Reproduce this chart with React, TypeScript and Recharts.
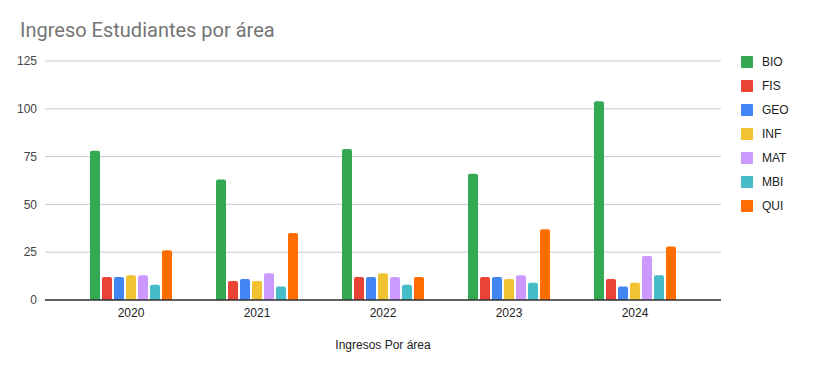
import React from 'react';
import { BarChart, Bar, XAxis, YAxis, CartesianGrid } from 'recharts';

const years = ['2020', '2021', '2022', '2023', '2024'];
const BIO = [78, 63, 79, 66, 104];
const FIS = [12, 10, 12, 12, 11];
const GEO = [12, 11, 12, 12, 7];
const INF = [13, 10, 14, 11, 9];
const MAT = [13, 14, 12, 13, 23];
const MBI = [8, 7, 8, 9, 13];
const QUI = [26, 35, 12, 37, 28];
const yTicks = [0, 25, 50, 75, 100, 125];

const series = [
  { key: 'BIO', values: BIO, color: '#34a853' },
  { key: 'FIS', values: FIS, color: '#ea4335' },
  { key: 'GEO', values: GEO, color: '#4285f4' },
  { key: 'INF', values: INF, color: '#f1c232' },
  { key: 'MAT', values: MAT, color: '#cc99ff' },
  { key: 'MBI', values: MBI, color: '#46bdc6' },
  { key: 'QUI', values: QUI, color: '#ff6d01' },
];

const data = years.map((y, i) => {
  const row: Record<string, any> = { year: y };
  series.forEach((s) => {
    row[s.key] = s.values[i];
  });
  return row;
});

const FONT = '"Liberation Sans", Arial, sans-serif';

export default function App() {
  return (
    <div style={{ position: 'absolute', left: 0, top: 0, width: 818, height: 371, background: '#fff', fontFamily: FONT }}>
      <div
        style={{
          position: 'absolute',
          left: 20,
          top: 20,
          fontFamily: 'Roboto, Arial, sans-serif',
          fontSize: 20,
          lineHeight: '20px',
          color: '#757575',
          whiteSpace: 'nowrap',
        }}
      >
        Ingreso Estudiantes por área
      </div>
      <BarChart
        width={818}
        height={371}
        data={data}
        margin={{ top: 61, right: 97, bottom: 0, left: 0 }}
        barSize={10}
        barGap={2}
        style={{ fontFamily: FONT }}
      >
        <CartesianGrid vertical={false} stroke="#cccccc" />
        <XAxis
          dataKey="year"
          height={71}
          padding={{ left: 23, right: 23 }}
          tickLine={false}
          tickSize={0}
          tickMargin={8}
          axisLine={{ stroke: '#333333', strokeWidth: 1.5 }}
          tick={{ fill: '#222222', fontSize: 12 }}
          label={{ value: 'Ingresos Por área', position: 'insideBottom', offset: 22, fill: '#222222', fontSize: 12 }}
        />
        <YAxis
          width={45}
          domain={[0, 125]}
          ticks={yTicks}
          axisLine={false}
          tickLine={false}
          tickSize={0}
          tickMargin={8}
          tick={{ fill: '#444444', fontSize: 12 }}
        />
        {series.map((s) => (
          <Bar key={s.key} dataKey={s.key} fill={s.color} radius={[2, 2, 0, 0]} isAnimationActive={false} />
        ))}
      </BarChart>
      <div style={{ position: 'absolute', left: 741, top: 50 }}>
        {series.map((s) => (
          <div key={s.key} style={{ height: 24, display: 'flex', alignItems: 'center' }}>
            <div style={{ width: 12, height: 12, background: s.color, borderRadius: 1 }} />
            <span style={{ marginLeft: 9, fontSize: 12, color: '#222222' }}>{s.key}</span>
          </div>
        ))}
      </div>
    </div>
  );
}
